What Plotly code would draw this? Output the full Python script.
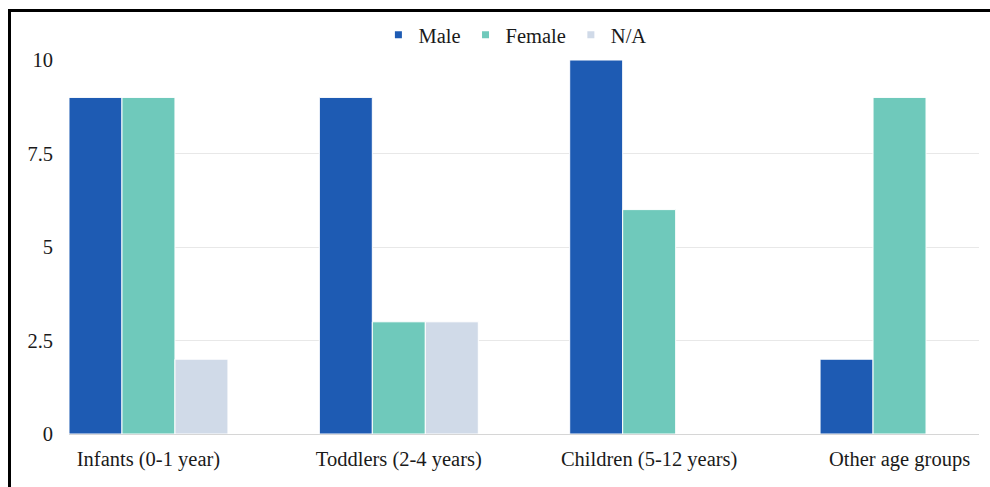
import plotly.graph_objects as go

# Counts per age group and sex
categories = ["Infants (0-1 year)", "Toddlers (2-4 years)", "Children (5-12 years)", "Other age groups"]
male = [9, 9, 10, 2]
female = [9, 3, 6, 9]
na = [2, 3, 0, 0]
y_ticks = [0, 2.5, 5, 7.5, 10]
y_tick_labels = ["0", "2.5", "5", "7.5", "10"]

series = [
    ("Male", male, "#1e5bb3"),
    ("Female", female, "#6fc9bb"),
    ("N/A", na, "#d0dae8"),
]

FONT = dict(family="Liberation Serif", size=20.5, color="#1a1a1a")

fig = go.Figure()
for name, vals, color in series:
    fig.add_trace(go.Bar(
        name=name, x=categories, y=vals, showlegend=False,
        marker=dict(color=color, line=dict(color="white", width=1)),
    ))
# small square legend keys
for name, vals, color in series:
    fig.add_trace(go.Scatter(
        name=name, x=[None], y=[None], mode="markers",
        marker=dict(symbol="square", size=7, color=color),
    ))

fig.update_layout(
    width=990, height=487,
    margin=dict(l=69, r=11, t=60, b=53),
    paper_bgcolor="white", plot_bgcolor="white",
    barmode="group", bargap=0.365, bargroupgap=0,
    font=FONT,
    showlegend=True,
    legend=dict(orientation="h", x=0.49, xanchor="center", y=1.067, yanchor="middle",
                font=FONT, itemwidth=30, traceorder="normal"),
    xaxis=dict(type="category", range=[-0.3174, 3.3174], showgrid=False,
               showline=True, linecolor="#d6d6d6", linewidth=1,
               ticks="", ticklabelstandoff=6, tickfont=FONT),
    yaxis=dict(range=[0, 10], tickvals=y_ticks, ticktext=y_tick_labels,
               showgrid=True, gridcolor="#e8e8e8", gridwidth=1,
               zeroline=False, showline=False, ticks="",
               ticklabelstandoff=15, tickfont=FONT),
    shapes=[
        # frame lines along the top and left edges
        dict(type="line", xref="paper", yref="paper",
             x0=(9.5 - 69) / 910, x1=(990 - 69) / 910 + 0.01,
             y0=1 + (60 - 10.5) / 374, y1=1 + (60 - 10.5) / 374,
             line=dict(color="black", width=3)),
        dict(type="line", xref="paper", yref="paper",
             x0=(9.5 - 69) / 910, x1=(9.5 - 69) / 910,
             y0=1 + (60 - 9) / 374, y1=(434 - 490) / 374,
             line=dict(color="black", width=3)),
    ],
)

fig.write_html("out.html")
